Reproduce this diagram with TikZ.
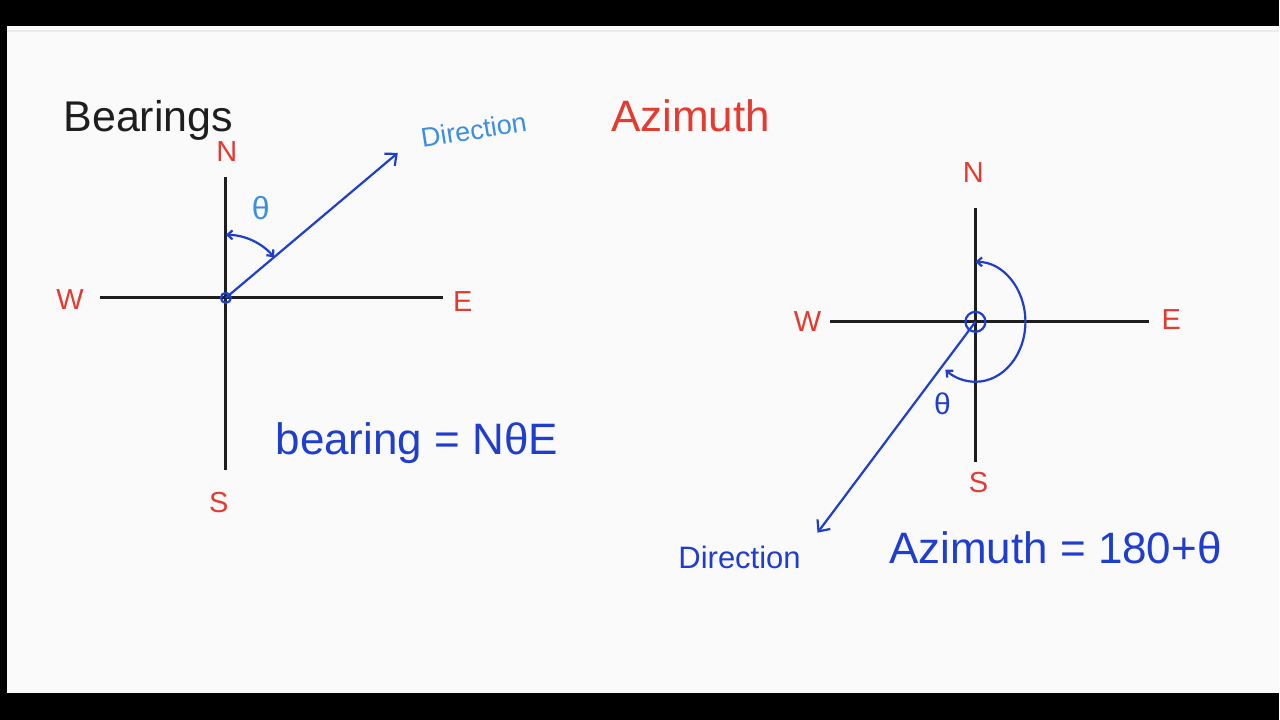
\documentclass[tikz,border=0pt]{standalone}
\usepackage{fontspec}
\setmainfont{Liberation Sans}
\usetikzlibrary{arrows.meta}

\definecolor{pen}{HTML}{1F3ECF}
\definecolor{penlight}{HTML}{3D8DE3}
\definecolor{mark}{HTML}{E53A30}
\definecolor{paper}{HTML}{FAFAFA}
\definecolor{ink}{HTML}{1E1E1E}

\begin{document}
\begin{tikzpicture}[x=1pt,y=-1pt,
  axis/.style={line width=3.2pt,color=ink},
  compass/.style={text=mark,font=\fontsize{29}{29}\selectfont},
  hand/.style={text=pen,font=\fontsize{44}{44}\selectfont},
  ray/.style={line width=2.2pt,color=pen},
  tip/.style={-{Straight Barb[length=9pt,width=16pt,line width=2.2pt]}},
  smalltip/.style={{Straight Barb[length=5pt,width=9pt]}-{Straight Barb[length=5pt,width=9pt]}}]
  % screen frame
  \fill[black] (0,0) rectangle (1280,720);
  \fill[paper] (7,26) rectangle (1280,693);
  \draw[black!8,line width=1.5pt] (7,31) -- (1280,31);

  % titles
  \node[anchor=base west,text=ink,font=\fontsize{43}{43}\selectfont] (bearings) at (60,132) {Bearings};
  \node[anchor=base west,text=mark,font=\fontsize{44}{44}\selectfont] (azimuth) at (608,132) {Azimuth};

  % bearings compass
  \coordinate (o1) at (226,298);
  \coordinate (n1) at (226,177);
  \coordinate (s1) at (226,470);
  \coordinate (w1) at (100,298);
  \coordinate (e1) at (443,298);
  \coordinate (d1) at (398,153);
  \draw[axis] (n1) -- (s1);
  \draw[axis] (w1) -- (e1);
  \node[compass] (lN1) at (227,152) {N};
  \node[compass] (lW1) at (70,300) {W};
  \node[compass] (lE1) at (463,302) {E};
  \node[compass] (lS1) at (219,503) {S};
  \draw[ray,tip] (o1) -- (d1);
  \draw[ray] (o1) circle (5);
  \draw[ray,smalltip] ([shift={(-90:63)}]o1) arc[start angle=-90,end angle=-40,radius=63];
  \node[text=penlight,font=\fontsize{32}{32}\selectfont] (th1) at (261,208) {θ};
  \node[text=penlight,font=\fontsize{27}{27}\selectfont,rotate=9] (dir1) at (474,130) {Direction};
  \node[hand] (eq1) at (417,443) {bearing = NθE};

  % azimuth compass
  \coordinate (o2) at (976,322);
  \coordinate (n2) at (976,208);
  \coordinate (s2) at (976,462);
  \coordinate (w2) at (830,322);
  \coordinate (e2) at (1150,322);
  \coordinate (d2) at (818,533);
  \draw[axis] (n2) -- (s2);
  \draw[axis] (w2) -- (e2);
  \node[compass] (lN2) at (974,173) {N};
  \node[compass] (lW2) at (808,322) {W};
  \node[compass] (lE2) at (1172,320) {E};
  \node[compass] (lS2) at (979,483) {S};
  \draw[ray,tip] (o2) -- (d2);
  \draw[ray] (o2) circle (10);
  \draw[ray,smalltip] ([shift={(0,-60)}]o2) arc[start angle=-90,end angle=127,x radius=50,y radius=60];
  \node[text=pen,font=\fontsize{30}{30}\selectfont] (th2) at (943,404) {θ};
  \node[text=pen,font=\fontsize{31}{31}\selectfont] (dir2) at (740,558) {Direction};
  \node[hand] (eq2) at (1056,548) {Azimuth = 180+θ};
\end{tikzpicture}
\end{document}
